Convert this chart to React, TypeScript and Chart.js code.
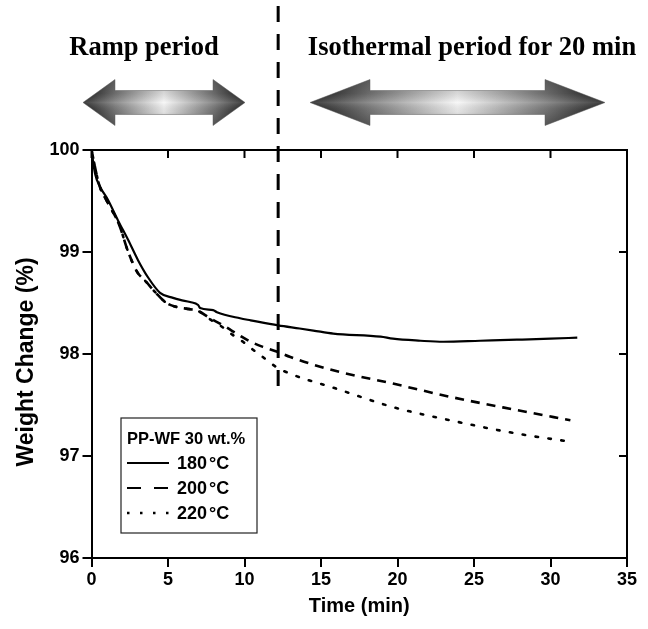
import React, { useEffect, useRef } from "react";
import { Chart, registerables } from "chart.js";

Chart.register(...registerables);

// ---- data ----
const time180 = [0, 0.23, 0.56, 1.08, 1.73, 2.39, 3.04, 3.7, 4.48, 5.33, 5.8, 6.44, 6.97, 7.1, 7.95, 8.2, 9.71, 10.4, 12.2, 13.6, 14.5, 15.8, 18.9, 19.7, 21.5, 23, 25.4, 27.8, 30, 31.75];
const weight180 = [100, 99.77, 99.64, 99.51, 99.31, 99.12, 98.92, 98.75, 98.6, 98.55, 98.53, 98.51, 98.48, 98.45, 98.43, 98.41, 98.35, 98.33, 98.28, 98.25, 98.23, 98.2, 98.17, 98.15, 98.13, 98.12, 98.13, 98.14, 98.15, 98.16];

const time200 = [0, 0.5, 1.0, 1.8, 2.4, 3.0, 3.5, 4.2, 4.9, 5.6, 6.4, 7.0, 7.75, 8.5, 9.06, 9.7, 10.4, 11.2, 12.2, 13, 15.8, 19.7, 23.45, 27.8, 31.3];
const weight200 = [100, 99.66, 99.5, 99.27, 99.0, 98.8, 98.72, 98.6, 98.5, 98.46, 98.44, 98.42, 98.35, 98.29, 98.24, 98.18, 98.12, 98.07, 98.02, 97.97, 97.84, 97.71, 97.58, 97.45, 97.35];

const time220 = [0, 0.5, 1.0, 1.8, 2.4, 3.0, 3.5, 4.2, 4.9, 5.6, 6.4, 7.0, 7.75, 8.5, 9.2, 9.9, 10.4, 11.2, 12.1, 13.1, 15.8, 19.7, 23.45, 27.8, 31.3];
const weight220 = [100, 99.66, 99.5, 99.27, 99.0, 98.8, 98.72, 98.6, 98.5, 98.46, 98.44, 98.42, 98.34, 98.27, 98.19, 98.12, 98.06, 97.97, 97.87, 97.8, 97.67, 97.48, 97.35, 97.22, 97.14];

const seriesLabels = ["180", "200", "220"];
const legendTitle = "PP-WF 30 wt.%";
const xTickValues = [0, 5, 10, 15, 20, 25, 30, 35];
const yTickValues = [96, 97, 98, 99, 100];
const xAxisTitle = "Time (min)";
const yAxisTitle = "Weight Change (%)";
const periodTitles = ["Ramp period", "Isothermal period for 20 min"];
const rampEndTime = 12.2; // vertical dashed divider (min)
const dividerBottomValue = 97.57;

const SANS = '"Liberation Sans", Arial, sans-serif';
const SERIF = '"Liberation Serif", "Times New Roman", serif';

const DASH_200 = [9, 7];
const DOT_220 = [2.5, 10.5];

function drawArrow(ctx: CanvasRenderingContext2D, x1: number, x2: number, yc: number, headLen: number, headHalf: number, shaftHalf: number) {
  ctx.save();
  ctx.beginPath();
  ctx.moveTo(x1, yc);
  ctx.lineTo(x1 + headLen, yc - headHalf);
  ctx.lineTo(x1 + headLen, yc - shaftHalf);
  ctx.lineTo(x2 - headLen, yc - shaftHalf);
  ctx.lineTo(x2 - headLen, yc - headHalf);
  ctx.lineTo(x2, yc);
  ctx.lineTo(x2 - headLen, yc + headHalf);
  ctx.lineTo(x2 - headLen, yc + shaftHalf);
  ctx.lineTo(x1 + headLen, yc + shaftHalf);
  ctx.lineTo(x1 + headLen, yc + headHalf);
  ctx.closePath();
  const w = x2 - x1;
  const g = ctx.createLinearGradient(x1, 0, x2, 0);
  g.addColorStop(0, "#1e1e1e");
  g.addColorStop(Math.min(0.45, headLen / w), "#7a7a7a");
  g.addColorStop(0.5, "#f6f6f6");
  g.addColorStop(Math.max(0.55, 1 - headLen / w), "#7a7a7a");
  g.addColorStop(1, "#1e1e1e");
  ctx.fillStyle = g;
  ctx.fill();
  const v = ctx.createLinearGradient(0, yc - headHalf, 0, yc + headHalf);
  v.addColorStop(0, "rgba(0,0,0,0.25)");
  v.addColorStop(0.3, "rgba(0,0,0,0.12)");
  v.addColorStop(0.5, "rgba(255,255,255,0.15)");
  v.addColorStop(0.7, "rgba(0,0,0,0.08)");
  v.addColorStop(1, "rgba(0,0,0,0.3)");
  ctx.fillStyle = v;
  ctx.fill();
  ctx.strokeStyle = "rgba(90,90,90,0.6)";
  ctx.lineWidth = 0.8;
  ctx.stroke();
  ctx.restore();
}

const decorPlugin = {
  id: "decor",
  afterDraw(chart: any) {
    const { ctx, chartArea } = chart;
    const { left, right, top, bottom } = chartArea;
    const xs = chart.scales.x;
    const ys = chart.scales.y;
    ctx.save();

    // frame top & right
    ctx.strokeStyle = "#000";
    ctx.lineWidth = 2;
    ctx.beginPath();
    ctx.moveTo(left - 1, top);
    ctx.lineTo(right, top);
    ctx.lineTo(right, bottom + 1);
    ctx.stroke();

    // inward mirror ticks
    ctx.lineWidth = 2;
    ctx.beginPath();
    xTickValues.forEach((v) => {
      const px = xs.getPixelForValue(v);
      ctx.moveTo(px, top);
      ctx.lineTo(px, top + 8);
    });
    yTickValues.forEach((v) => {
      const py = ys.getPixelForValue(v);
      ctx.moveTo(right, py);
      ctx.lineTo(right - 8, py);
    });
    ctx.stroke();

    // vertical divider
    const dx = xs.getPixelForValue(rampEndTime);
    ctx.setLineDash([16, 12]);
    ctx.lineWidth = 3;
    ctx.beginPath();
    ctx.moveTo(dx, 6);
    ctx.lineTo(dx, ys.getPixelForValue(dividerBottomValue));
    ctx.stroke();
    ctx.setLineDash([]);

    // axis titles
    ctx.fillStyle = "#000";
    ctx.font = `bold 20px ${SANS}`;
    ctx.textAlign = "center";
    ctx.textBaseline = "middle";
    ctx.fillText(xAxisTitle, (left + right) / 2, 606);
    ctx.save();
    ctx.translate(27, (top + bottom) / 2 + 8);
    ctx.rotate(-Math.PI / 2);
    ctx.font = `bold 23px ${SANS}`;
    ctx.fillText(yAxisTitle, 0, 0);
    ctx.restore();

    // period titles
    ctx.font = `bold 26.5px ${SERIF}`;
    ctx.textBaseline = "alphabetic";
    ctx.textAlign = "center";
    ctx.fillText(periodTitles[0], 144, 55);
    ctx.fillText(periodTitles[1], 472, 55);

    // arrows
    drawArrow(ctx, 83, 245, 102.5, 32, 23, 12);
    drawArrow(ctx, 310, 605, 102.5, 60, 23, 12);

    // legend
    const bx = 121, by = 418, bw = 136, bh = 115;
    ctx.fillStyle = "#fff";
    ctx.fillRect(bx, by, bw, bh);
    ctx.strokeStyle = "#222";
    ctx.lineWidth = 1.2;
    ctx.strokeRect(bx, by, bw, bh);
    ctx.fillStyle = "#000";
    ctx.font = `bold 16.5px ${SANS}`;
    ctx.textAlign = "left";
    ctx.textBaseline = "middle";
    ctx.fillText(legendTitle, 127, 439);
    const rows = [463, 488, 513];
    const dashes = [[], [14, 13], [2.5, 10.5]];
    rows.forEach((ry, i) => {
      ctx.strokeStyle = "#000";
      ctx.lineWidth = i === 2 ? 2.5 : 2.2;
      ctx.setLineDash(dashes[i]);
      ctx.beginPath();
      ctx.moveTo(127, ry);
      ctx.lineTo(169, ry);
      ctx.stroke();
      ctx.setLineDash([]);
      ctx.font = `bold 18px ${SANS}`;
      const t = seriesLabels[i];
      ctx.fillText(t, 177, ry + 1);
      const w = ctx.measureText(t).width;
      ctx.fillText("°C", 177 + w + 2, ry + 1);
    });

    ctx.restore();
  },
};

export default function App() {
  const ref = useRef<HTMLCanvasElement | null>(null);
  useEffect(() => {
    if (!ref.current) return;
    const mk = (t: number[], w: number[]) => t.map((v, i) => ({ x: v, y: w[i] }));
    const chart = new Chart(ref.current, {
      type: "line",
      data: {
        datasets: [
          { label: "180", data: mk(time180, weight180), borderColor: "#000", borderWidth: 2.2, pointRadius: 0, cubicInterpolationMode: "monotone", fill: false },
          { label: "200", data: mk(time200, weight200), borderColor: "#000", borderWidth: 2.6, borderDash: DASH_200, pointRadius: 0, cubicInterpolationMode: "monotone", fill: false },
          { label: "220", data: mk(time220, weight220), borderColor: "#000", borderWidth: 2.6, borderDash: DOT_220, borderCapStyle: "round", pointRadius: 0, cubicInterpolationMode: "monotone", fill: false },
        ] as any,
      },
      options: {
        responsive: false,
        animation: false,
        devicePixelRatio: 1,
        layout: { padding: { left: 0, top: 150, right: 21, bottom: 0 } },
        plugins: { legend: { display: false }, tooltip: { enabled: false } },
        scales: {
          x: {
            type: "linear",
            min: 0,
            max: 35,
            afterBuildTicks: (s: any) => { s.ticks = xTickValues.map((v) => ({ value: v })); },
            afterFit: (s: any) => { s.height = 71; },
            ticks: { color: "#000", font: { family: SANS, size: 18, weight: "bold" }, padding: 2, maxRotation: 0 },
            grid: { drawOnChartArea: false, drawTicks: true, tickLength: 9, lineWidth: 2, color: "#000" },
            border: { display: true, color: "#000", width: 2 },
          },
          y: {
            type: "linear",
            min: 96,
            max: 100,
            afterBuildTicks: (s: any) => { s.ticks = yTickValues.map((v) => ({ value: v })); },
            afterFit: (s: any) => { s.width = 91.5; },
            ticks: { color: "#000", font: { family: SANS, size: 18, weight: "bold" }, padding: 3 },
            grid: { drawOnChartArea: false, drawTicks: true, tickLength: 9, lineWidth: 2, color: "#000" },
            border: { display: true, color: "#000", width: 2 },
          },
        },
      } as any,
      plugins: [decorPlugin],
    });
    return () => chart.destroy();
  }, []);
  return (
    <div style={{ position: "absolute", left: 0, top: 0, width: 648, height: 629, background: "#fff" }}>
      <canvas ref={ref} width={648} height={629} style={{ width: 648, height: 629, display: "block" }} />
    </div>
  );
}
